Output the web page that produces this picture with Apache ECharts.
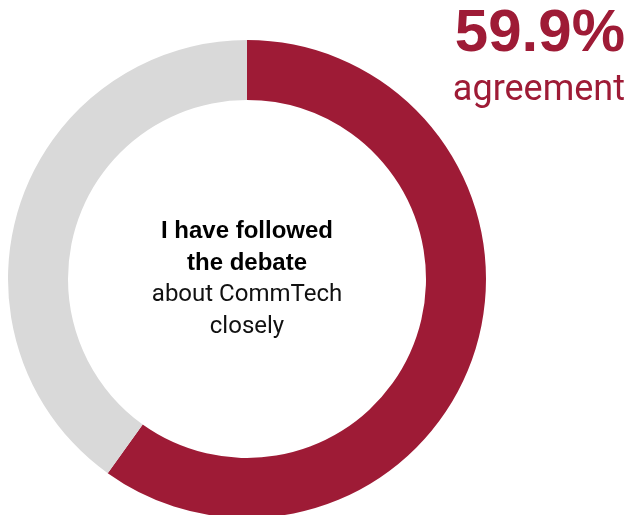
<!DOCTYPE html>
<html><head><meta charset="utf-8">
<script src="https://cdn.jsdelivr.net/npm/echarts@6/dist/echarts.min.js"></script>
<style>html,body{margin:0;padding:0;background:#fff}#c{width:630px;height:515px}</style>
</head><body><div id="c"></div>
<script>
const categories = ['Agree', 'Other'];
const values = [59.9, 40.1];
const headline = '59.9%';
const subline = 'agreement';
const centerBold = ['I have followed', 'the debate'];
const centerRegular = ['about CommTech', 'closely'];
const colors = ['#9E1B36', '#D9D9D9'];

const chart = echarts.init(document.getElementById('c'), null, {renderer: 'canvas'});
const cx = 247, firstBaseline = 239, lineGap = 32;
const centerLines = centerBold.map(s => ({t: s, bold: true})).concat(centerRegular.map(s => ({t: s, bold: false})));
const centerGraphics = centerLines.map((l, i) => ({
  type: 'text', x: cx, y: firstBaseline + i * lineGap - 8,
  style: {
    text: l.t, textAlign: 'center', textVerticalAlign: 'middle',
    font: l.bold ? 'bold 24px "Liberation Sans", Arial' : '24px Roboto, "Liberation Sans"',
    fill: l.bold ? '#000' : '#111'
  }
}));
chart.setOption({
  animation: false,
  series: [{
    type: 'pie',
    center: [247, 279],
    radius: [179, 239],
    startAngle: 90,
    clockwise: true,
    silent: true,
    label: {show: false},
    labelLine: {show: false},
    data: categories.map((c, i) => ({name: c, value: values[i], itemStyle: {color: colors[i]}}))
  }],
  graphic: [
    {type: 'text', right: 5, top: 4, style: {text: headline, font: 'bold 60px "Liberation Sans", Arial', fill: '#9E1B36', textAlign: 'right'}},
    {type: 'text', right: 5, top: 73, style: {text: subline, font: '36px Roboto, "Liberation Sans"', fill: '#9E1B36', textAlign: 'right'}}
  ].concat(centerGraphics)
});
</script></body></html>
